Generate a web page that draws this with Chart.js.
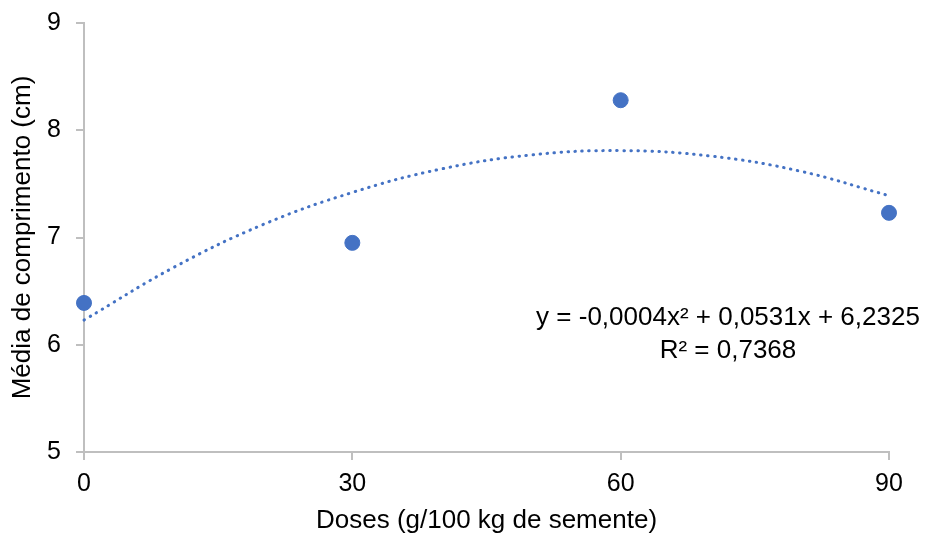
<!DOCTYPE html>
<html>
<head>
<meta charset="utf-8">
<script src="https://cdn.jsdelivr.net/npm/chart.js@4"></script>
<style>
  html, body { margin: 0; padding: 0; background: #fff; }
  #wrap { width: 927px; height: 536px; }
</style>
</head>
<body>
<div id="wrap"><canvas id="chart" width="927" height="536"></canvas></div>
<script>
// Observed data
const doses = [0, 30, 60, 90];
const comprimento = [6.39, 6.95, 8.28, 7.23];

// Polynomial trend line
const trendX = [0, 10, 20, 30, 40, 50, 60, 70, 80, 90];
const trendY = [6.23, 6.72, 7.12, 7.42, 7.64, 7.77, 7.81, 7.76, 7.62, 7.39];

const xTicks = [0, 30, 60, 90];
const yTicks = [5, 6, 7, 8, 9];

const eqLines = ['y = -0,0004x\u00b2 + 0,0531x + 6,2325', 'R\u00b2 = 0,7368'];

const BLUE = '#4472C4';
const AXIS = '#BFBFBF';
const FONT = '"Liberation Sans", Arial, sans-serif';

// draws the trend equation as text inside the plot
const equationPlugin = {
  id: 'equation',
  afterDraw(chart) {
    const ctx = chart.ctx;
    const xs = chart.scales.x, ys = chart.scales.y;
    ctx.save();
    ctx.font = '26px ' + FONT;
    ctx.fillStyle = '#000';
    ctx.textAlign = 'center';
    ctx.textBaseline = 'middle';
    const cx = xs.getPixelForValue(72);
    ctx.fillText(eqLines[0], cx, ys.getPixelForValue(6.25));
    ctx.fillText(eqLines[1], cx, ys.getPixelForValue(5.94));
    ctx.restore();
  }
};

new Chart(document.getElementById('chart'), {
  type: 'scatter',
  data: {
    datasets: [
      {
        label: 'Média',
        data: doses.map((d, i) => ({ x: d, y: comprimento[i] })),
        backgroundColor: BLUE,
        borderColor: BLUE,
        pointRadius: 7.5,
        pointHoverRadius: 7.5,
        showLine: false,
        clip: false,
        order: 1
      },
      {
        label: 'Polinomial',
        data: trendX.map((d, i) => ({ x: d, y: trendY[i] })),
        borderColor: BLUE,
        borderWidth: 3,
        borderDash: [0.5, 6.5],
        borderCapStyle: 'round',
        pointRadius: 0,
        showLine: true,
        tension: 0.4,
        fill: false,
        clip: false,
        order: 2
      }
    ]
  },
  options: {
    responsive: false,
    animation: false,
    layout: { padding: { top: 23, right: 38, left: 0, bottom: 0 } },
    plugins: {
      legend: { display: false },
      tooltip: { enabled: false }
    },
    scales: {
      x: {
        type: 'linear',
        min: 0,
        max: 90,
        afterBuildTicks: (s) => { s.ticks = xTicks.map(v => ({ value: v })); },
        afterFit: (s) => { s.height = 84; s.paddingLeft = 0; s.paddingRight = 0; },
        grid: { drawOnChartArea: false, color: AXIS, tickLength: 8, lineWidth: 2 },
        border: { color: AXIS, width: 2 },
        ticks: { color: '#000', font: { family: FONT, size: 25 }, padding: 9 },
        title: {
          display: true,
          text: 'Doses (g/100 kg de semente)',
          color: '#000',
          font: { family: FONT, size: 26 },
          padding: { top: 0, bottom: 0 }
        }
      },
      y: {
        type: 'linear',
        min: 5,
        max: 9,
        afterBuildTicks: (s) => { s.ticks = yTicks.map(v => ({ value: v })); },
        afterFit: (s) => { s.width = 84; s.paddingTop = 0; s.paddingBottom = 0; },
        grid: { drawOnChartArea: false, color: AXIS, tickLength: 8, lineWidth: 2 },
        border: { color: AXIS, width: 2 },
        ticks: { color: '#000', font: { family: FONT, size: 25 }, padding: 15 },
        title: {
          display: true,
          text: 'Média de comprimento (cm)',
          color: '#000',
          font: { family: FONT, size: 26 },
          padding: { top: 7, bottom: 0 }
        }
      }
    }
  },
  plugins: [equationPlugin]
});
</script>
</body>
</html>
